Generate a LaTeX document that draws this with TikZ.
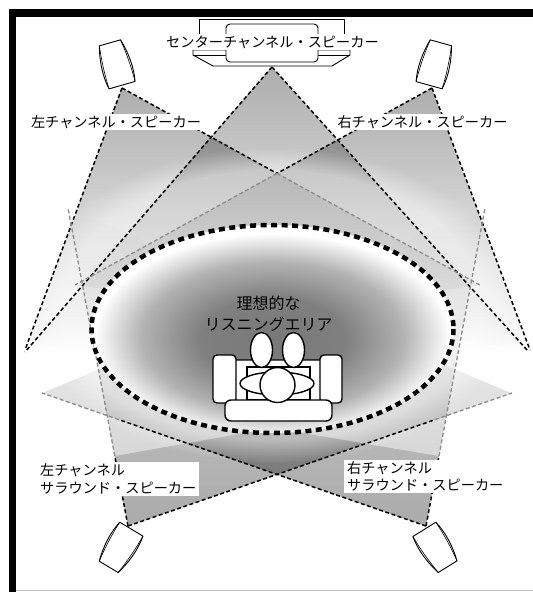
\documentclass[tikz,border=0pt]{standalone}
\usepackage{fontspec}
\setmainfont{Noto Sans CJK JP}
\usetikzlibrary{calc,fadings}
\tikzstyle{cone} = [fill=black, fill opacity=0.32]
\tikzstyle{ray} = [draw, line width=1.5pt, dash pattern=on 4pt off 2.5pt]
\tikzstyle{rayfar} = [ray, draw=black!45, line width=1.3pt]
\tikzstyle{lbl} = [fill=white, inner xsep=3pt, inner ysep=1.5pt, font=\fontsize{14.2pt}{17.5pt}\selectfont]
\tikzstyle{spk} = [draw, fill=white, line width=0.9pt, line join=round]
\tikzstyle{seat} = [draw, fill=white, line width=1.4pt]
\pgfdeclareradialshading{sweetspot}{\pgfpoint{0bp}{-3bp}}{color(0bp)=(black!53); color(10bp)=(black!50); color(18bp)=(black!30); color(24.5bp)=(white); color(50bp)=(white)}
\newcommand{\drawspeaker}{%
  \draw[spk] (-11,-22) -- (11,-22) .. controls (15,-8) and (16.5,8) .. (13.5,22)
    -- (-13.5,22) .. controls (-16.5,8) and (-15,-8) .. (-11,-22) -- cycle;
  \draw[line width=0.6pt] (-11,-22) .. controls (-13,-8) and (-14,8) .. (-13.5,22)
    (11,-22) .. controls (13,-8) and (14,8) .. (13.5,22);
}
\begin{document}
\begin{tikzpicture}[x=1pt, y=-1pt]
  \useasboundingbox (0,0) rectangle (533,592);
  \fill[white] (0,0) rectangle (533,592);
  \fill (9,9) rectangle (533,16.5);
  \fill (9,9) rectangle (15.5,592);
  \draw[black!25, line width=1pt] (15.5,590.5) -- (533,590.5);

  \coordinate (c) at (272,67);
  \coordinate (fl) at (122,88);
  \coordinate (fr) at (432,88);
  \coordinate (sl) at (128,526);
  \coordinate (sr) at (426,526);
  \coordinate (x) at (277,173.4);
  \coordinate (cl) at (25,352);
  \coordinate (cr) at (527,350);
  \coordinate (fll) at (25,350);
  \coordinate (flr) at (480,285);
  \coordinate (frr) at (530,350);
  \coordinate (frl) at (75,285);
  \coordinate (slu) at (68,208);
  \coordinate (slr) at (512,393);
  \coordinate (sru) at (485,208);
  \coordinate (srl) at (42,393);

  \fill[cone, path fading=south] (c) -- (cl) -- (cr) -- cycle;
  \fill[cone, path fading=south] (fl) -- (fll) -- (flr) -- cycle;
  \fill[cone, path fading=south] (fr) -- (frr) -- (frl) -- cycle;
  \fill[cone, fill opacity=0.2, path fading=north] (sl) -- (slu) -- (slr) -- cycle;
  \fill[cone, fill opacity=0.2, path fading=north] (sr) -- (sru) -- (srl) -- cycle;
  \fill[cone, fill opacity=0.16] (sl) -- ($(sl)!.22!(slu)$) -- (272,428) -- ($(sl)!.62!(slr)$) -- cycle;
  \fill[cone, fill opacity=0.16] (sr) -- ($(sr)!.22!(sru)$) -- (272,428) -- ($(sr)!.62!(srl)$) -- cycle;
  \fill[white, fill opacity=0.45, path fading=circle with fuzzy edge 15 percent] (272,305) ellipse [x radius=245, y radius=158];

  \path[ray] (c) -- (cl) (c) -- (cr) (fl) -- (fll) (fr) -- (frr) (fl) -- (x) (fr) -- (x);
  \path[rayfar] (x) -- (flr) (x) -- (frl);
  \path[ray] (sl) -- ($(sl)!.22!(slu)$) coordinate (slm) (sl) -- ($(sl)!.8!(slr)$) coordinate (sln);
  \path[ray] (sr) -- ($(sr)!.22!(sru)$) coordinate (srm) (sr) -- ($(sr)!.8!(srl)$) coordinate (srn);
  \path[rayfar] (slm) -- (slu) (sln) -- (slr) (srm) -- (sru) (srn) -- (srl);

  \shade[shading=sweetspot] (272.5,329) ellipse [x radius=181, y radius=104];
  \draw[line width=4.5pt, dash pattern=on 6pt off 4.5pt] (272.5,329) ellipse [x radius=181, y radius=104];
  \node[font=\fontsize{16pt}{21pt}\selectfont, align=center] (area) at (268.5,313.5) {理想的な\\リスニングエリア};

  \draw[seat, rounded corners=4pt] (232,360) rectangle (324,402);
  \draw[line width=1.1pt] (247,367) rectangle (310,400);
  \draw[seat, rounded corners=4pt] (213,355) rectangle (236,403);
  \draw[seat, rounded corners=4pt] (320,355) rectangle (342,403);
  \draw[seat, rounded corners=6pt] (225,400) rectangle (332,421);
  \draw[seat] (261.5,350) ellipse [x radius=11, y radius=17.5];
  \draw[seat] (293.5,350) ellipse [x radius=11, y radius=17.5];
  \draw[seat] (277,383.5) ellipse [x radius=37, y radius=11.5];
  \draw[seat] (277.5,385) circle [radius=17.5];

  \begin{scope}[shift={(116,64)}, rotate=16] \drawspeaker \end{scope}
  \begin{scope}[shift={(435,64)}, rotate=-15.5] \drawspeaker \end{scope}
  \begin{scope}[shift={(120,548)}, rotate=149] \drawspeaker \end{scope}
  \begin{scope}[shift={(436,548)}, rotate=-148] \drawspeaker \end{scope}

  \draw[spk] (199,19) rectangle (344,50);
  \draw[spk] (193,50) -- (350,50) -- (350,55) -- (332,66) -- (213,66) -- (193,55) -- cycle;
  \draw (193,55) -- (350,55);
  \draw[spk, rounded corners=4pt] (226,24) rectangle (318,62);

  \node[lbl] (ctr) at (272.5,42) {センターチャンネル・スピーカー};
  \node[lbl] (fleft) at (116,122) {左チャンネル・スピーカー};
  \node[lbl] (fright) at (422.5,122) {右チャンネル・スピーカー};
  \node[lbl, align=left, anchor=west] (sleft) at (37,479) {左チャンネル\\サラウンド・スピーカー};
  \node[lbl, align=left, anchor=west] (sright) at (344,476.5) {右チャンネル\\サラウンド・スピーカー};
\end{tikzpicture}
\end{document}
